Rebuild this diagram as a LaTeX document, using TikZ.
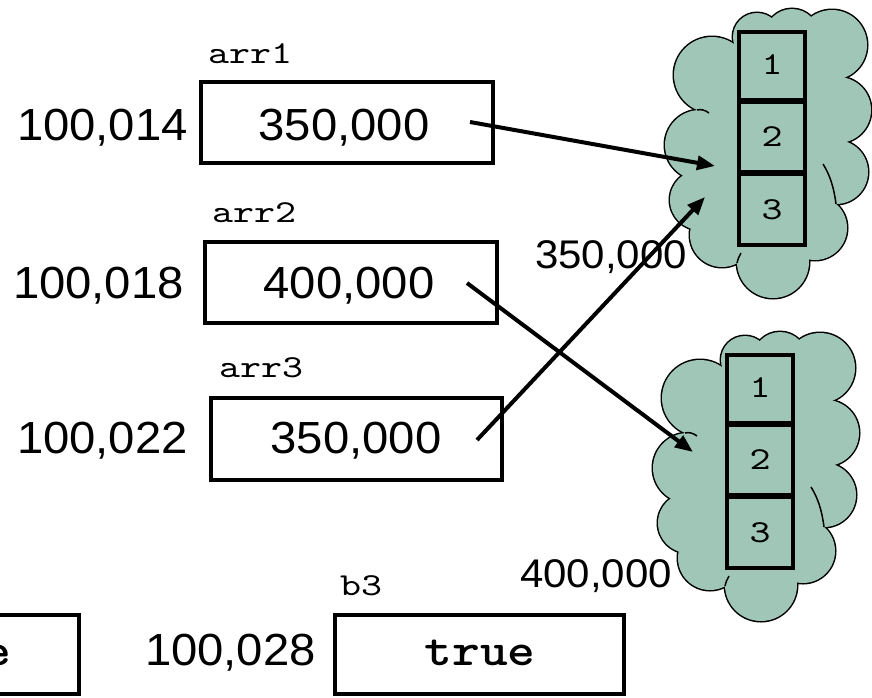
\documentclass[tikz,border=0pt]{standalone}
\usepackage{fontspec}
\newfontfamily\arialf{Liberation Sans}[FakeStretch=1.05]
\newfontfamily\courf{lmmono10-regular.otf}[FakeStretch=1.25]
\newfontfamily\courbf{lmmonolt10-bold.otf}[FakeStretch=1.15]
\usetikzlibrary{arrows.meta}
\definecolor{cloudfill}{RGB}{160,198,184}
\tikzset{
  addr/.style={font=\arialf\fontsize{45}{54}\selectfont, inner sep=0pt, anchor=base east},
  val/.style={font=\arialf\fontsize{45}{54}\selectfont, inner sep=0pt, anchor=base},
  ext/.style={font=\arialf\fontsize{40}{48}\selectfont, inner sep=0pt, anchor=base},
  vname/.style={font=\courf\fontsize{32}{38}\selectfont, inner sep=0pt, anchor=base},
  bval/.style={font=\courbf\fontsize{46}{54}\selectfont, inner sep=0pt, anchor=base},
  idx/.style={font=\courf\fontsize{32}{38}\selectfont, inner sep=0pt, anchor=base},
  memcell/.style={draw, line width=4.5pt, inner sep=0pt, minimum width=66pt},
  varbox/.style={draw, line width=4.5pt, inner sep=0pt},
  ptr/.style={line width=4pt, -{Triangle[length=18pt,width=14pt]}},
  pics/memcloud/.style={code={
    \foreach \cx/\cy/\r in {712/75/38, 757/37/24, 792/36/27, 832/45/35, 838/110/33, 836/172/32, 815/228/32, 773/262/36, 722/235/32, 700/200/30, 700/145/35}
      \draw[line width=3pt] (\cx,\cy) circle[radius=\r];
    \foreach \cx/\cy/\r in {712/75/38, 757/37/24, 792/36/27, 832/45/35, 838/110/33, 836/172/32, 815/228/32, 773/262/36, 722/235/32, 700/200/30, 700/145/35}
      \fill[cloudfill] (\cx,\cy) circle[radius=\r];
    \fill[cloudfill] (712,75) -- (757,37) -- (792,36) -- (832,45) -- (838,110) -- (836,172) -- (815,228) -- (773,262) -- (722,235) -- (700,200) -- (700,145) -- cycle;
    \draw[line width=1.5pt] (836,204) .. controls (834,188) and (830,175) .. (823,164);
    \draw[line width=1.5pt] (697,110) .. controls (701,109) and (705,110) .. (709,113);
    \draw[line width=1.5pt] (737,263) .. controls (738,259) and (739,256) .. (741,253);
    \node[memcell, minimum height=68pt] (-c1) at (772,66) {};
    \node[memcell, minimum height=70pt] (-c2) at (772,137) {};
    \node[memcell, minimum height=71pt] (-c3) at (772,209.5) {};
    \node[idx] (-i1) at (772,74) {1};
    \node[idx] (-i2) at (772,146) {2};
    \node[idx] (-i3) at (772,219) {3};
  }}
}
\begin{document}
\begin{tikzpicture}[x=1pt,y=-1pt]
\useasboundingbox (0,0) rectangle (872,697);
\clip (0,0) rectangle (872,697);

% clouds with arrays
\pic (cloudA) at (0,0) {memcloud};
\pic (cloudB) at (-12,323) {memcloud};

% variable boxes
\node[varbox, minimum width=292pt, minimum height=81pt] (box1) at (347,122.5) {};
\node[varbox, minimum width=292pt, minimum height=81pt] (box2) at (351,282.5) {};
\node[varbox, minimum width=291pt, minimum height=82pt] (box3) at (356.5,439) {};
\node[varbox, minimum width=289pt, minimum height=79pt] (boxb3) at (479.5,654.5) {};
\node[varbox, minimum width=289pt, minimum height=79pt] (boxb2) at (-65.5,654.5) {};

% texts
\node[vname] (n1) at (250,63) {arr1};
\node[addr] (a14) at (188,140) {100,014};
\node[val] (v1) at (344,140) {350,000};

\node[vname] (n2) at (254,222) {arr2};
\node[addr] (a18) at (184,298) {100,018};
\node[val] (v2) at (349,298) {400,000};

\node[vname] (n3) at (261,377) {arr3};
\node[addr] (a22) at (188,453) {100,022};
\node[val] (v3) at (356,453) {350,000};

\node[ext] (e1) at (611,268) {350,000};
\node[ext] (e2) at (596,587) {400,000};

\node[vname] (nb3) at (361,595) {b3};
\node[addr] (a28) at (316,665) {100,028};
\node[bval] (tv) at (480,665) {true};
\node[bval, anchor=base east] (fv) at (11,665) {false};

% pointers
\coordinate (s1) at (470,122);
\coordinate (t1) at (715,166);
\coordinate (s2) at (467,283);
\coordinate (t2) at (693,452);
\coordinate (s3) at (477,440);
\coordinate (t3) at (705,197);
\draw[ptr] (s1) -- (t1);
\draw[ptr] (s2) -- (t2);
\draw[ptr] (s3) -- (t3);
\end{tikzpicture}
\end{document}
